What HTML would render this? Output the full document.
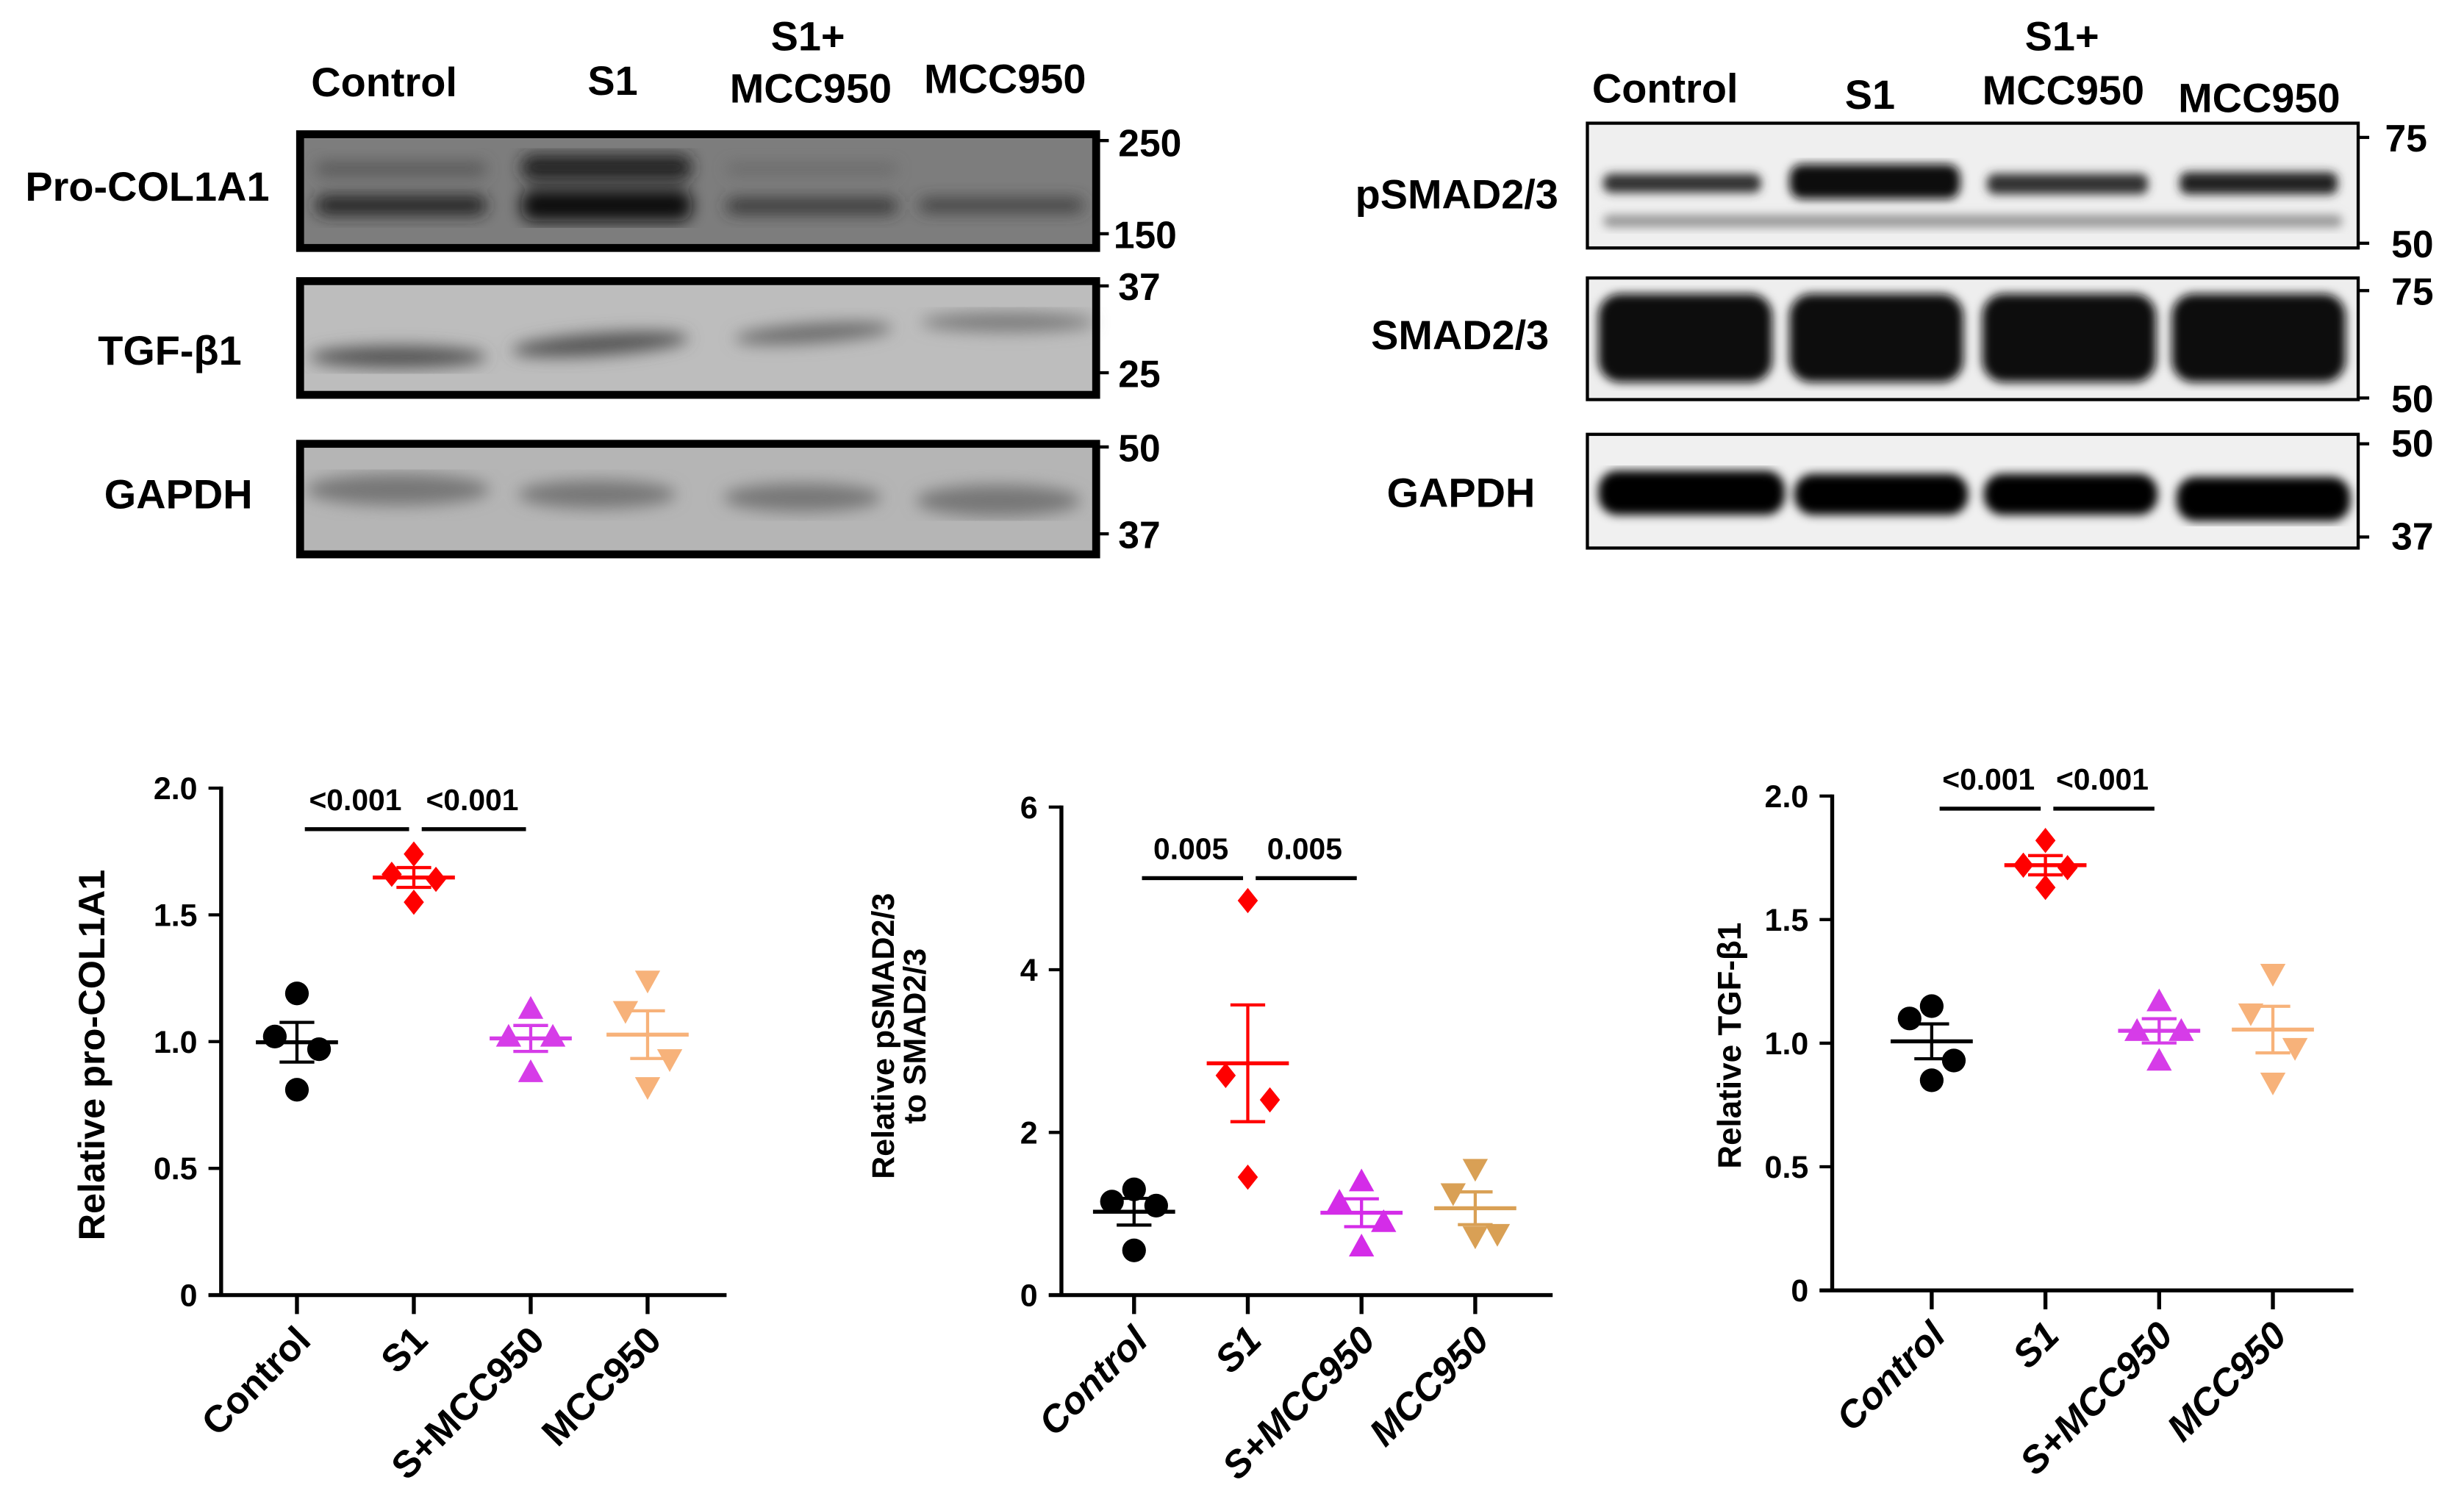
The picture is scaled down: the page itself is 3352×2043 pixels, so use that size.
<!DOCTYPE html>
<html><head><meta charset="utf-8"><style>
html,body{margin:0;padding:0;background:#fff;}
svg{display:block;font-family:"Liberation Sans",Arial,sans-serif;font-weight:bold;}
</style></head><body>
<svg id="fig" width="3352" height="2043" viewBox="0 0 1560 951" preserveAspectRatio="none" xmlns="http://www.w3.org/2000/svg">
<defs>
<filter id="blur3"><feGaussianBlur stdDeviation="3"/></filter>
<filter id="blur5"><feGaussianBlur stdDeviation="5"/></filter>
</defs>
<g font-size="26">
<text x="197" y="61">Control</text>
<text x="372" y="60">S1</text>
<text x="488" y="32">S1+</text>
<text x="462" y="65">MCC950</text>
<text x="585" y="59">MCC950</text>
<text x="16" y="127">Pro-COL1A1</text>
<text x="62" y="231">TGF-β1</text>
<text x="66" y="322">GAPDH</text>
<g>
<rect x="190" y="85" width="504" height="72" fill="#7d7d7d"/>
<g filter="url(#blur5)">
<rect x="200" y="124" width="108" height="12" rx="6" fill="#222"/>
<rect x="200" y="103" width="108" height="8" rx="4" fill="#555"/>
<rect x="330" y="98" width="108" height="16" rx="7" fill="#222"/>
<rect x="330" y="120" width="108" height="20" rx="8" fill="#111"/>
<rect x="460" y="126" width="108" height="9" rx="4" fill="#333"/>
<rect x="460" y="104" width="108" height="6" rx="3" fill="#666"/>
<rect x="582" y="126" width="104" height="8" rx="4" fill="#3a3a3a"/>
</g>
<rect x="190" y="85" width="504" height="72" fill="none" stroke="#000" stroke-width="5"/>
</g>
<g>
<rect x="190" y="178" width="504" height="72" fill="#bdbdbd"/>
<g filter="url(#blur5)" fill="#555">
<ellipse cx="252" cy="226" rx="56" ry="7"/>
<ellipse cx="380" cy="218" rx="56" ry="7" transform="rotate(-4 380 218)"/>
<ellipse cx="515" cy="211" rx="50" ry="6" fill="#6a6a6a" transform="rotate(-4 515 211)"/>
<ellipse cx="638" cy="204" rx="55" ry="6" fill="#7a7a7a"/>
</g>
<rect x="190" y="178" width="504" height="72" fill="none" stroke="#000" stroke-width="5"/>
</g>
<g>
<rect x="190" y="281" width="504" height="70" fill="#b5b5b5"/>
<g filter="url(#blur5)" fill="#777">
<ellipse cx="252" cy="310" rx="58" ry="10"/>
<ellipse cx="378" cy="313" rx="50" ry="9"/>
<ellipse cx="508" cy="315" rx="50" ry="9"/>
<ellipse cx="632" cy="317" rx="52" ry="10"/>
</g>
<rect x="190" y="281" width="504" height="70" fill="none" stroke="#000" stroke-width="5"/>
</g>
<g stroke="#000" stroke-width="2">
<line x1="694" y1="89" x2="702" y2="89"/><line x1="694" y1="148" x2="702" y2="148"/>
<line x1="694" y1="181" x2="702" y2="181"/><line x1="694" y1="236" x2="702" y2="236"/>
<line x1="694" y1="283" x2="702" y2="283"/><line x1="694" y1="338" x2="702" y2="338"/>
</g>
<g font-size="24">
<text x="708" y="99">250</text><text x="705" y="157">150</text>
<text x="708" y="190">37</text><text x="708" y="245">25</text>
<text x="708" y="292">50</text><text x="708" y="347">37</text>
</g>
</g>
<g font-size="26">
<text x="1008" y="65">Control</text>
<text x="1168" y="69">S1</text>
<text x="1282" y="32">S1+</text>
<text x="1255" y="66">MCC950</text>
<text x="1379" y="71">MCC950</text>
<text x="858" y="132">pSMAD2/3</text>
<text x="868" y="221">SMAD2/3</text>
<text x="878" y="321">GAPDH</text>
<g>
<rect x="1005" y="78" width="488" height="79" fill="#efefef"/>
<g filter="url(#blur3)">
<rect x="1015" y="110" width="100" height="12" rx="5" fill="#333"/>
<rect x="1133" y="104" width="108" height="22" rx="8" fill="#111"/>
<rect x="1258" y="110" width="102" height="13" rx="5" fill="#333"/>
<rect x="1380" y="109" width="100" height="14" rx="5" fill="#222"/>
<rect x="1015" y="136" width="468" height="8" rx="4" fill="#999"/>
</g>
<rect x="1005" y="78" width="488" height="79" fill="none" stroke="#000" stroke-width="2"/>
</g>
<g>
<rect x="1005" y="176" width="488" height="77" fill="#eee"/>
<g filter="url(#blur3)" fill="#0a0a0a">
<rect x="1012" y="186" width="110" height="56" rx="14"/>
<rect x="1133" y="186" width="110" height="56" rx="14"/>
<rect x="1255" y="186" width="110" height="56" rx="14"/>
<rect x="1375" y="186" width="110" height="56" rx="14"/>
</g>
<rect x="1005" y="176" width="488" height="77" fill="none" stroke="#000" stroke-width="2"/>
</g>
<g>
<rect x="1005" y="275" width="488" height="72" fill="#f0f0f0"/>
<g filter="url(#blur3)" fill="#050505">
<rect x="1012" y="298" width="118" height="28" rx="12"/>
<rect x="1136" y="300" width="110" height="26" rx="12"/>
<rect x="1256" y="300" width="110" height="26" rx="12"/>
<rect x="1378" y="302" width="110" height="28" rx="12"/>
</g>
<rect x="1005" y="275" width="488" height="72" fill="none" stroke="#000" stroke-width="2"/>
</g>
<g stroke="#000" stroke-width="2">
<line x1="1493" y1="87" x2="1500" y2="87"/><line x1="1493" y1="154" x2="1500" y2="154"/>
<line x1="1493" y1="184" x2="1500" y2="184"/><line x1="1493" y1="252" x2="1500" y2="252"/>
<line x1="1493" y1="281" x2="1500" y2="281"/><line x1="1493" y1="340" x2="1500" y2="340"/>
</g>
<g font-size="24">
<text x="1510" y="96">75</text><text x="1514" y="163">50</text>
<text x="1514" y="193">75</text><text x="1514" y="261">50</text>
<text x="1514" y="289">50</text><text x="1514" y="348">37</text>
</g>
</g>
<g id="charts"></g>
</svg>
<script>
// Chart 1: Relative pro-COL1A1
const categories = ["Control","S1","S+MCC950","MCC950"];
const c1Control = [1.19,1.02,0.97,0.81];
const c1S1 = [1.74,1.66,1.64,1.55];
const c1SM = [1.13,1.02,1.02,0.88];
const c1M = [1.24,1.12,0.93,0.82];
const c1Ticks = [0,0.5,1.0,1.5,2.0];
const c1TickLabels = ["0","0.5","1.0","1.5","2.0"];
const c1Pvals = ["<0.001","<0.001"];
// Chart 2: pSMAD2/3 to SMAD2/3
const c2Control = [1.3,1.15,1.1,0.55];
const c2S1 = [4.85,2.7,2.4,1.45];
const c2SM = [1.4,1.15,0.9,0.6];
const c2M = [1.55,1.25,0.75,0.72];
const c2Ticks = [0,2,4,6];
const c2TickLabels = ["0","2","4","6"];
const c2Pvals = ["0.005","0.005"];
// Chart 3: TGF-β1
const c3Control = [1.15,1.1,0.93,0.85];
const c3S1 = [1.82,1.72,1.71,1.63];
const c3SM = [1.17,1.05,1.05,0.93];
const c3M = [1.28,1.12,0.98,0.84];
const c3Ticks = [0,0.5,1.0,1.5,2.0];
const c3TickLabels = ["0","0.5","1.0","1.5","2.0"];
const c3Pvals = ["<0.001","<0.001"];

const NS="http://www.w3.org/2000/svg";
const root=document.getElementById('charts');
function mk(tag,attrs,parent){const e=document.createElementNS(NS,tag);for(const k in attrs)e.setAttribute(k,attrs[k]);parent.appendChild(e);return e;}
function mean(a){return a.reduce((s,v)=>s+v,0)/a.length;}
function sem(a){const m=mean(a);const sd=Math.sqrt(a.reduce((s,v)=>s+(v-m)*(v-m),0)/(a.length-1));return sd/Math.sqrt(a.length);}

function marker(g,shape,cx,cy,col){
  const r=8;let e;
  if(shape==='circle'){e=mk('circle',{cx:cx,cy:cy,r:7.5,fill:col},g);}
  else if(shape==='diamond'){e=mk('polygon',{points:`${cx},${cy-r} ${cx+r*0.8},${cy} ${cx},${cy+r} ${cx-r*0.8},${cy}`,fill:col},g);}
  else if(shape==='up'){e=mk('polygon',{points:`${cx},${cy-r} ${cx+r},${cy+r*0.8} ${cx-r},${cy+r*0.8}`,fill:col},g);}
  else {e=mk('polygon',{points:`${cx},${cy+r} ${cx+r},${cy-r*0.8} ${cx-r},${cy-r*0.8}`,fill:col},g);}
  
  
}

function chart(cfg){
  const g=mk('g',{},root);
  
  
  const y=v=>cfg.y0-(v-cfg.vmin)/(cfg.vmax-cfg.vmin)*(cfg.y0-cfg.y1);
  const x=i=>cfg.xs[0]+i*(cfg.xs[1]-cfg.xs[0]);
  const ax=mk('line',{x1:cfg.ax,y1:y(cfg.vmax)-1,x2:cfg.ax,y2:cfg.y0,stroke:'#000','stroke-width':2.5},g);
  
  const xa=mk('line',{x1:cfg.ax-8,y1:cfg.y0,x2:cfg.xend,y2:cfg.y0,stroke:'#000','stroke-width':2.5},g);
  
  cfg.ticks.forEach((t,i)=>{
    const tl=mk('line',{x1:cfg.ax-8,y1:y(t),x2:cfg.ax,y2:y(t),stroke:'#000','stroke-width':2},g);
    
    const tx=mk('text',{x:cfg.ax-15,y:y(t)+7,'text-anchor':'end','font-size':20},g);
    tx.textContent=cfg.tickLabels[i];
    
  });
  categories.forEach((c,i)=>{
    const tl=mk('line',{x1:x(i),y1:cfg.y0,x2:x(i),y2:cfg.y0+12,stroke:'#000','stroke-width':2.5},g);
    
    const tx=mk('text',{x:x(i)+10,y:cfg.y0+30,'text-anchor':'end','font-size':24,transform:`rotate(-45 ${x(i)+10} ${cfg.y0+30})`,'font-style':cfg.italic?'italic':'normal'},g);
    tx.textContent=c;
    
  });
  const tg=mk('text',{x:0,y:0,'text-anchor':'middle','font-size':cfg.titleSize,transform:`translate(${cfg.titleX},${cfg.titleY}) rotate(-90)`},g);
  cfg.title.forEach((t,i)=>{const s=mk('tspan',{x:0,dy:i?cfg.titleSize:0},tg);s.textContent=t;});
  
  const shapes=['circle','diamond','up','down'];
  cfg.series.forEach((arr,i)=>{
    const col=cfg.colors[i];const cx=x(i);
    const sg=mk('g',{},g);
    
    
    arr.forEach((v,j)=>marker(sg,shapes[i],cx+[0,-14,14,0][j],y(v),col));
    const m=mean(arr),s=sem(arr);
    const ml=mk('line',{x1:cx-26,y1:y(m),x2:cx+26,y2:y(m),stroke:col,'stroke-width':2.5},sg);
    
    const el=mk('path',{d:`M${cx},${y(m+s)}V${y(m-s)}M${cx-11},${y(m+s)}H${cx+11}M${cx-11},${y(m-s)}H${cx+11}`,stroke:col,'stroke-width':2,fill:'none'},sg);
    
  });
  [[0,1],[1,2]].forEach((p,k)=>{
    const by=cfg.sigY;
    const l=mk('line',{x1:x(p[0])+5,y1:by,x2:x(p[1])-3,y2:by,stroke:'#000','stroke-width':2.5},g);
    
    const t=mk('text',{x:(x(p[0])+x(p[1]))/2,y:by-12,'text-anchor':'middle','font-size':19},g);
    t.textContent=cfg.pvals[k];
    
  });
}
chart({name:'chart-pro-col1a1',ax:140,y0:820,y1:499,vmin:0,vmax:2,xs:[188,262],xend:460,ticks:c1Ticks,tickLabels:c1TickLabels,
 series:[c1Control,c1S1,c1SM,c1M],colors:['#000','#ff0000','#d63ce8','#f7b27a'],pvals:c1Pvals,sigY:525,
 title:['Relative pro-COL1A1'],titleSize:23.5,titleX:66,titleY:668,italic:false});
chart({name:'chart-psmad23',ax:672,y0:820,y1:511,vmin:0,vmax:6,xs:[718,790],xend:983,ticks:c2Ticks,tickLabels:c2TickLabels,
 series:[c2Control,c2S1,c2SM,c2M],colors:['#000','#ff0000','#d42ce8','#d9a055'],pvals:c2Pvals,sigY:556,
 title:['Relative pSMAD2/3','to SMAD2/3'],titleSize:20,titleX:566,titleY:656,italic:true});
chart({name:'chart-tgf-b1',ax:1160,y0:817,y1:504,vmin:0,vmax:2,xs:[1223,1295],xend:1490,ticks:c3Ticks,tickLabels:c3TickLabels,
 series:[c3Control,c3S1,c3SM,c3M],colors:['#000','#ff0000','#d63ce8','#f7b27a'],pvals:c3Pvals,sigY:512,
 title:['Relative TGF-β1'],titleSize:20.5,titleX:1102,titleY:662,italic:true});
</script>
</body></html>
